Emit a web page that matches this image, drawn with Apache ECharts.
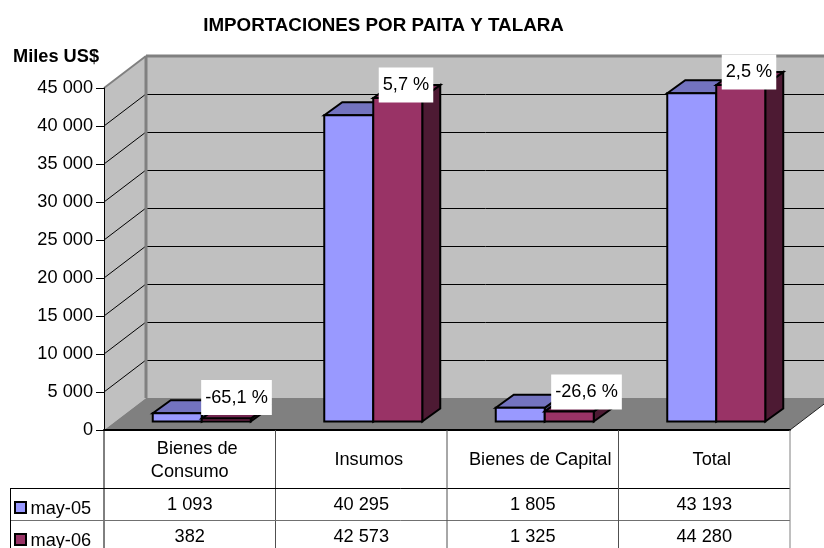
<!DOCTYPE html>
<html>
<head>
<meta charset="utf-8">
<style>html,body{margin:0;padding:0;background:#fff}#c{width:824px;height:548px}</style>
<script src="https://cdn.jsdelivr.net/npm/echarts@6/dist/echarts.min.js"></script>
</head>
<body>
<div id="c"></div>
<script>
const categories = ['Bienes de\nConsumo', 'Insumos', 'Bienes de Capital', 'Total'];
const may05 = [1093, 40295, 1805, 43193];
const may06 = [382, 42573, 1325, 44280];
const changes = ['-65,1 %', '5,7 %', '-26,6 %', '2,5 %'];
const seriesNames = ['may-05', 'may-06'];
const yTicks = [0, 5000, 10000, 15000, 20000, 25000, 30000, 35000, 40000, 45000];

const FONT = '"Liberation Sans", Arial, sans-serif';
const FS = 18.2;
const WALL_DX = 42, WALL_DY = 32;
const BAR_DX = 12, BAR_DY = 8.5, DEPTH_DX = 18, DEPTH_DY = 13;
const labelShift = [[11, -21.5], [9, -13.5], [18, -20], [9, -13.5]];
const BLUE = ['#9999FF', '#7373BF', '#4D4D80'];
const RED = ['#993366', '#732650', '#4D1A33'];
const fmt = v => String(v).replace(/\B(?=(\d{3})+$)/g, ' ');
const poly = (points, fill, stroke, lineWidth) => ({
  type: 'polygon', shape: { points }, style: { fill, stroke, lineWidth, lineJoin: 'miter' }
});
const line = (x1, y1, x2, y2, stroke, lineWidth) => ({
  type: 'line', shape: { x1, y1, x2, y2 }, style: { stroke, lineWidth: lineWidth || 1 }
});

function renderWall(params, api) {
  const cs = params.coordSys;
  const v = yTicks[params.dataIndex];
  const y = api.coord([0, v])[1];
  const L = cs.x, R = cs.x + cs.width, B = cs.y + cs.height, T = cs.y;
  const kids = [];
  if (v === 0) {
    kids.push(poly([[L, T], [L + WALL_DX, T - WALL_DY], [L + WALL_DX, B - WALL_DY], [L, B]], '#C0C0C0'));
    kids.push(poly([[L + WALL_DX, T - WALL_DY], [R + WALL_DX, T - WALL_DY], [R + WALL_DX, B - WALL_DY], [L + WALL_DX, B - WALL_DY]], '#C0C0C0'));
    kids.push(poly([[L, B], [L + WALL_DX, B - WALL_DY], [R + WALL_DX, B - WALL_DY], [R, B]], '#808080'));
    kids.push(line(R, B, R + WALL_DX, B - WALL_DY, '#222', 1));
  } else if (v < yTicks[yTicks.length - 1]) {
    kids.push(line(L, y, L + WALL_DX, y - WALL_DY, '#000', 1));
    kids.push(line(L + WALL_DX, y - WALL_DY + 0.5, R + WALL_DX, y - WALL_DY + 0.5, '#000', 1));
  } else {
    kids.push(line(L, y, L + WALL_DX, y - WALL_DY, '#808080', 2));
    kids.push(line(L + WALL_DX, y - WALL_DY, R + WALL_DX, y - WALL_DY, '#808080', 3));
    kids.push(line(L + WALL_DX, y - WALL_DY, L + WALL_DX, B - WALL_DY, '#808080', 3));
  }
  return { type: 'group', children: kids };
}

function barRenderer(colors, slot) {
  return function (params, api) {
    const cat = api.value(0), val = api.value(1);
    const w = api.size([1, 0])[0] * 2 / 7;
    const top = api.coord([cat, val]);
    const base = api.coord([cat, 0]);
    const x0 = base[0] + BAR_DX + (slot - 1) * w, x1 = x0 + w;
    const yB = base[1] - BAR_DY, yT = top[1] - BAR_DY;
    return {
      type: 'group',
      children: [
        poly([[x1, yB], [x1 + DEPTH_DX, yB - DEPTH_DY], [x1 + DEPTH_DX, yT - DEPTH_DY], [x1, yT]], colors[2], '#000', 2),
        poly([[x0, yT], [x0 + DEPTH_DX, yT - DEPTH_DY], [x1 + DEPTH_DX, yT - DEPTH_DY], [x1, yT]], colors[1], '#000', 2),
        poly([[x0, yB], [x1, yB], [x1, yT], [x0, yT]], colors[0], '#000', 2)
      ]
    };
  };
}

function renderLabel(params, api) {
  const i = params.dataIndex;
  const p = api.coord([i, may06[i]]);
  const w = api.size([1, 0])[0] * 2 / 7;
  return {
    type: 'text',
    z2: 10,
    style: {
      x: p[0] + 11.25 + w / 2 + labelShift[i][0],
      y: p[1] - 8 + labelShift[i][1],
      text: changes[i], align: 'center', verticalAlign: 'middle',
      font: FS + 'px ' + FONT, fill: '#000',
      backgroundColor: '#fff', padding: [10, 4, 7, 4]
    }
  };
}

function renderTable(params, api) {
  const i = params.dataIndex;
  const cs = params.coordSys;
  const c = api.coord([i, 0]);
  const half = api.size([1, 0])[0] / 2;
  const B = cs.y + cs.height;
  const kids = [];
  const last = i === categories.length - 1;
  const right = c[0] + half;
  kids.push(line(right, B, right, 548, last ? '#808080' : '#505050', 1));
  const rows = [[may05, 75, 488], [may06, 107, 520]];
  rows.forEach(r => {
    kids.push({
      type: 'text',
      style: { x: c[0], y: B + r[1], text: fmt(r[0][i]), align: 'center', verticalAlign: 'middle', font: FS + 'px ' + FONT, fill: '#000' }
    });
  });
  if (i === 0) {
    const L = cs.x, R = cs.x + cs.width;
    kids.push(line(L, B, L, 548, '#000', 1));
    kids.push(line(10.5, 488.5, R, 488.5, '#000', 1));
    kids.push(line(10.5, 520.5, R, 520.5, '#707070', 1));
    kids.push(line(10.5, 488, 10.5, 548, '#000', 1));
    seriesNames.forEach((name, k) => {
      const yc = 507.5 + k * 32;
      kids.push({ type: 'rect', shape: { x: 15, y: yc - 5.5, width: 11, height: 11 }, style: { fill: k ? RED[0] : BLUE[0], stroke: '#000', lineWidth: 2 } });
      kids.push({ type: 'text', style: { x: 30.5, y: yc + 1, text: name, align: 'left', verticalAlign: 'middle', font: FS + 'px ' + FONT, fill: '#000' } });
    });
  }
  return { type: 'group', children: kids };
}

const chart = echarts.init(document.getElementById('c'), null, { renderer: 'canvas' });
chart.setOption({
  animation: false,
  backgroundColor: '#fff',
  title: {
    text: 'IMPORTACIONES POR PAITA Y TALARA', left: 383.5, top: 16, textAlign: 'center', padding: 0,
    textStyle: { fontFamily: FONT, fontSize: 18.8, fontWeight: 'bold', color: '#000' }
  },
  grid: { left: 104, right: 34, top: 88, bottom: 118, containLabel: false },
  xAxis: {
    type: 'category', data: categories, z: 5,
    axisLine: { lineStyle: { color: '#000', width: 2 } }, axisTick: { show: false },
    axisLabel: {
      color: '#000', fontFamily: FONT, fontSize: FS, lineHeight: 23, margin: 30, verticalAlign: 'middle', interval: 0,
      formatter: v => v.split('\n').map(t => t === 'Consumo' ? '{c|' + t + '}' : '{s|' + t + '}').join('\n'),
      rich: {
        s: { color: '#000', fontFamily: FONT, fontSize: FS, lineHeight: 23, padding: [0, 0, 0, 15] },
        c: { color: '#000', fontFamily: FONT, fontSize: FS, lineHeight: 23 }
      }
    }
  },
  yAxis: {
    type: 'value', min: 0, max: 45000, interval: 5000, z: 5,
    name: 'Miles US$', nameLocation: 'end', nameGap: 31,
    nameTextStyle: { color: '#000', fontFamily: FONT, fontSize: FS, fontWeight: 'bold', align: 'right', verticalAlign: 'middle', padding: [0, 5, 0, 0] },
    axisLine: { show: true, lineStyle: { color: '#000', width: 1 } },
    axisTick: { show: true, length: 8, lineStyle: { color: '#000' } },
    axisLabel: { color: '#000', fontFamily: FONT, fontSize: FS, margin: 11, formatter: v => fmt(v) },
    splitLine: { show: false }
  },
  series: [
    { type: 'custom', name: 'walls', z: 1, silent: true, data: yTicks.map(v => [0, v]), renderItem: renderWall },
    { type: 'custom', name: seriesNames[0], z: 2, data: may05.map((v, i) => [i, v]), renderItem: barRenderer(BLUE, 0) },
    { type: 'custom', name: seriesNames[1], z: 3, data: may06.map((v, i) => [i, v]), renderItem: barRenderer(RED, 1) },
    { type: 'custom', name: 'labels', z: 6, silent: true, data: may06.map((v, i) => [i, v]), renderItem: renderLabel },
    { type: 'custom', name: 'table', z: 7, silent: true, data: categories.map((c, i) => [i, 0]), renderItem: renderTable }
  ]
});
</script>
</body>
</html>
